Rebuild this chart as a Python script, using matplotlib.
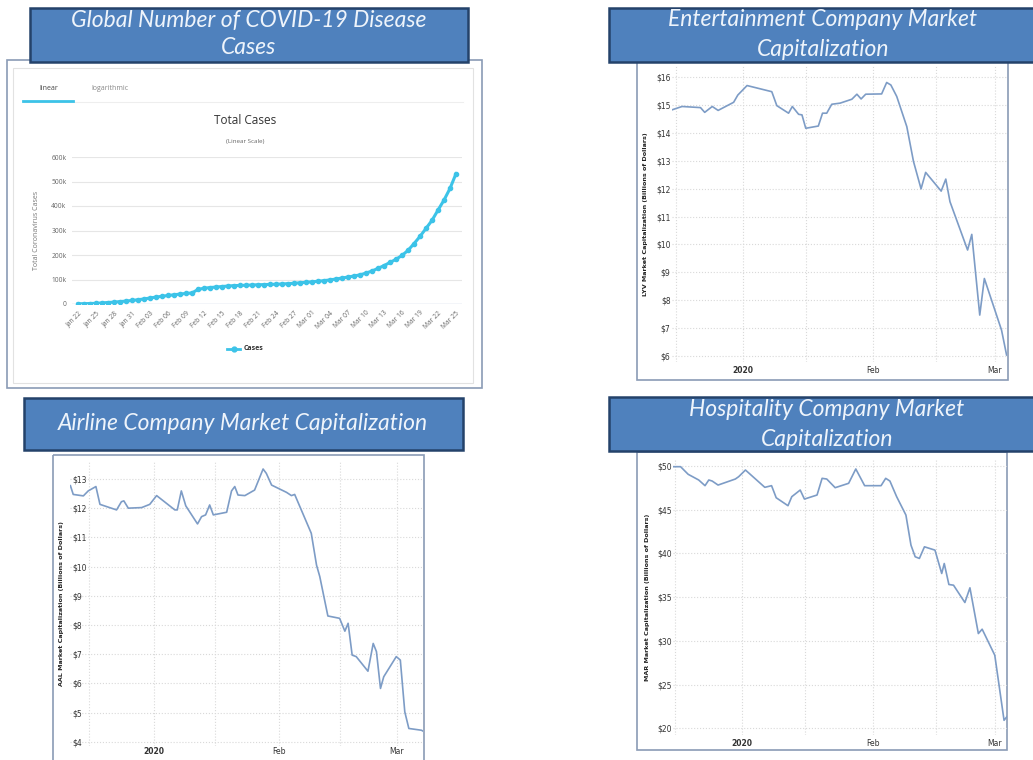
import numpy as np
import pandas as pd
import matplotlib
matplotlib.use('Agg')
import matplotlib.pyplot as plt
from matplotlib.patches import Rectangle

# ---- data ----
# global cumulative cases, one value per day starting Jan 22
covid_cases = [845, 1317, 2015, 2800, 4581, 6058, 7813, 9823, 11950, 14553,
               17391, 20630, 24545, 28266, 31439, 34876, 37552, 40553, 43099, 45134,
               59287, 64438, 67100, 69197, 71329, 73332, 75184, 75700, 76677, 77673,
               78651, 79205, 80087, 80828, 81820, 83112, 84615, 86604, 88585, 90443,
               93016, 95314, 98425, 102050, 106099, 109991, 114381, 118948, 126214, 134576,
               145483, 156653, 169593, 182490, 198238, 218822, 246261, 275869, 308463, 341365,
               383256, 424048, 471518, 531865]
covid_dates = pd.date_range('2020-01-22', periods=len(covid_cases), freq='D')
covid_ticks = [d.strftime('%b %d') for d in covid_dates[::3]]

# market caps (billions), x = days from Jan 1 2020
lyv_days = [-17, -14.6, -10.2, -9.2, -7.4, -6, -2.3, -1.3, 0.9, 6.8, 8, 10.8, 11.7, 13.2,
            14, 14.9, 17.9, 18.9, 19.9, 21.1, 23.1, 25.9, 27.1, 28.1, 29.2, 33, 34.2,
            35.2, 36.6, 39, 40.6, 42.4, 43.5, 47.2, 48.3, 49.3, 53.5, 54.5, 56.4, 57.5,
            61.6, 62.8]
lyv_cap = [14.82, 14.94, 14.9, 14.73, 14.94, 14.8, 15.09, 15.35, 15.69, 15.47, 14.97,
           14.7, 14.94, 14.66, 14.64, 14.16, 14.24, 14.7, 14.7, 15.02, 15.06, 15.2,
           15.38, 15.21, 15.38, 15.39, 15.8, 15.71, 15.3, 14.22, 12.97, 11.99, 12.58,
           11.91, 12.34, 11.53, 9.8, 10.36, 7.47, 8.78, 6.93, 6.04]

aal_days = [-20.6, -19.9, -17.4, -16.2, -14.3, -13.3, -9.2, -8, -7.4, -6.3, -3, -1, 0.7,
            5.2, 5.8, 6.8, 7.9, 10.8, 11.8, 12.8, 13.8, 14.7, 18, 19.2, 20, 20.8, 22.5,
            24.9, 27, 27.8, 29.1, 32.8, 34, 34.8, 38.9, 40.2, 41, 43, 45.9, 47.2, 48,
            49, 50, 52.9, 54.2, 55, 56, 56.8, 59.9, 60.9, 62, 63, 66.1, 66.5]
aal_cap = [12.77, 12.47, 12.42, 12.59, 12.74, 12.13, 11.94, 12.22, 12.25, 12.0, 12.02,
           12.13, 12.43, 11.94, 11.94, 12.59, 12.08, 11.46, 11.71, 11.77, 12.11, 11.77,
           11.86, 12.59, 12.74, 12.45, 12.43, 12.62, 13.34, 13.19, 12.79, 12.54, 12.43,
           12.47, 11.14, 10.05, 9.66, 8.31, 8.23, 7.79, 8.06, 6.97, 6.92, 6.42, 7.37,
           7.09, 5.83, 6.23, 6.92, 6.8, 5.03, 4.46, 4.4, 4.37]

mar_days = [-16.4, -14.6, -12.8, -10.3, -8.8, -7.9, -7.1, -5.7, -1.6, -0.8, 0.8, 5.4, 7,
            8.1, 10.9, 11.8, 13.8, 14.8, 17.8, 19, 20.1, 22.1, 25.3, 27, 29.1, 33, 34.1,
            35.1, 36.7, 38.9, 40.1, 41.1, 42.1, 43.3, 45.8, 47.4, 48, 49.1, 50.2, 52.9,
            54.1, 56.1, 57, 60, 62.2, 63]
mar_cap = [49.92, 49.92, 49.05, 48.4, 47.75, 48.4, 48.28, 47.82, 48.51, 48.78, 49.54,
           47.56, 47.75, 46.37, 45.46, 46.49, 47.25, 46.22, 46.68, 48.59, 48.51, 47.52,
           48.02, 49.66, 47.75, 47.75, 48.59, 48.28, 46.49, 44.39, 40.95, 39.62, 39.43,
           40.76, 40.38, 37.71, 38.85, 36.45, 36.37, 34.39, 36.07, 30.84, 31.34, 28.36,
           20.92, 21.41]

month_pos = [0, 31, 60]
month_labels = ['2020', 'Feb', 'Mar']

W, H = 1033, 760
fig = plt.figure(figsize=(W / 100, H / 100), dpi=100)
fig.patch.set_facecolor('white')


def px_axes(l, t, r, b, z=1):
    ax = fig.add_axes([l / W, 1 - b / H, (r - l) / W, (b - t) / H], zorder=z)
    return ax


# background layer: panel frames
bg = px_axes(0, 0, W, H, z=0)
bg.set_xlim(0, W)
bg.set_ylim(H, 0)
bg.axis('off')
frame_col = '#8a9bb5'
bg.add_patch(Rectangle((7, 60), 475, 328, fill=False, ec=frame_col, lw=1.2))
bg.add_patch(Rectangle((13, 68), 460, 315, fill=False, ec='#e2e2e2', lw=0.8))
bg.add_patch(Rectangle((637, 58), 371, 322, fill=False, ec=frame_col, lw=1.2))
bg.add_patch(Rectangle((53, 455), 371, 320, fill=False, ec=frame_col, lw=1.2))
bg.add_patch(Rectangle((637, 452), 370, 298, fill=False, ec=frame_col, lw=1.2))

# covid tabs and headings
cyan = '#3cc3e8'
bg.text(49, 88, 'linear', fontsize=5, color='#444', ha='center', va='center', family='Open Sans')
bg.text(110, 88, 'logarithmic', fontsize=5, color='#888', ha='center', va='center', family='Open Sans')
bg.plot([23, 463], [102, 102], color='#eeeeee', lw=0.8)
bg.plot([23, 73], [101, 101], color=cyan, lw=2)
bg.text(245, 121, 'Total Cases', fontsize=8.5, color='#333', ha='center', va='center', family='Open Sans')
bg.text(245, 141, '(Linear Scale)', fontsize=4.5, color='#666', ha='center', va='center', family='Open Sans')
bg.text(37, 230, 'Total Coronavirus Cases', fontsize=5, color='#777', rotation=90,
        ha='center', va='center', family='Open Sans')
bg.plot([227, 240], [349, 349], color=cyan, lw=2)
bg.plot([233.5], [349], 'o', color=cyan, ms=3.5)
bg.text(244, 349, 'Cases', fontsize=5, color='#333', ha='left', va='center',
        family='Open Sans', fontweight='bold')

# ---- covid chart ----
ax = px_axes(72, 157, 462, 304)
ax.set_facecolor('none')
x = np.arange(len(covid_cases))
ax.plot(x, covid_cases, color=cyan, lw=2.2, marker='o', ms=3.0, zorder=3)
ax.set_xlim(-1, 64)
ax.set_ylim(0, 600000)
ax.set_yticks(range(0, 600001, 100000))
ax.set_yticklabels(['0'] + ['%dk' % (v // 1000) for v in range(100000, 600001, 100000)])
ax.set_xticks(x[::3])
ax.set_xticklabels(covid_ticks, rotation=45, ha='right', rotation_mode='anchor')
ax.tick_params(length=0, labelsize=4.8, labelcolor='#666', pad=4)
for lab in ax.get_xticklabels() + ax.get_yticklabels():
    lab.set_family('Open Sans')
ax.grid(axis='y', color='#e6e6e6', lw=0.8)
for s in ax.spines.values():
    s.set_visible(False)
ax.axhline(0, color='#ccd6eb', lw=1)


# ---- market cap charts ----
def cap_chart(box, days, caps, xlim, ylim, yticks, ylabel, label_x, inside=False, xpad=3):
    a = px_axes(*box)
    a.set_facecolor('none')
    a.plot(days, caps, color='#7d9cc6', lw=1.2, zorder=3)
    a.set_xlim(*xlim)
    a.set_ylim(*ylim)
    a.set_yticks(yticks)
    a.set_yticklabels(['$%d' % v for v in yticks])
    a.set_xticks(month_pos)
    a.set_xticklabels(month_labels)
    a.get_xticklabels()[0].set_fontweight('bold')
    a.get_xticklabels()[0].set_fontsize(6.5)
    a.set_xticks([-16, 15, 46], minor=True)
    a.tick_params(which='both', length=0, labelsize=5.5, labelcolor='#333')
    a.tick_params(axis='x', pad=xpad)
    if inside:
        a.tick_params(axis='y', pad=-2)
        for lab in a.get_yticklabels():
            lab.set_horizontalalignment('left')
    else:
        a.tick_params(axis='y', pad=1)
    a.grid(which='both', color='#d9d9d9', ls=':', lw=0.8)
    for s in a.spines.values():
        s.set_visible(False)
    mid = (box[1] + box[3]) / 2
    bg.text(label_x, mid, ylabel, rotation=90, fontsize=4.6, fontweight='bold',
            color='#222', ha='center', va='center')
    return a


cap_chart((672, 66, 1007, 362), lyv_days, lyv_cap, (-17, 62.9), (5.79, 16.39),
          list(range(6, 17)), 'LYV Market Capitalization (Billions of Dollars)', 645)
cap_chart((70, 462, 423, 746), aal_days, aal_cap, (-20.7, 66.5), (3.86, 13.58),
          list(range(4, 14)), 'AAL Market Capitalization (Billions of Dollars)', 62,
          inside=True, xpad=0.5)
cap_chart((673, 459, 1007, 735), mar_days, mar_cap, (-16.4, 62.9), (19.24, 50.8),
          list(range(20, 51, 5)), 'MAR Market Capitalization (Billions of Dollars)', 647)

# ---- title boxes on top ----
top = px_axes(0, 0, W, H, z=5)
top.set_xlim(0, W)
top.set_ylim(H, 0)
top.axis('off')
box_fill = '#4f81bd'
box_edge = '#24426a'
title_kw = dict(fontsize=16.5, color='#eef4fb', style='italic', ha='center', va='center',
                family=['Lato', 'DejaVu Sans'])
for (l, t, w, h) in [(30, 8, 438, 54), (609, 8, 430, 54), (24, 398, 439, 52), (609, 397, 430, 54)]:
    top.add_patch(Rectangle((l, t), w, h, fc=box_fill, ec=box_edge, lw=1.8, zorder=2))
top.text(249, 21, 'Global Number of COVID-19 Disease', **title_kw)
top.text(249, 48, 'Cases', **title_kw)
top.text(823, 20, 'Entertainment Company Market', **title_kw)
top.text(823, 49, 'Capitalization', **title_kw)
top.text(243, 424, 'Airline Company Market Capitalization', **title_kw)
top.text(827, 410, 'Hospitality Company Market', **title_kw)
top.text(827, 440, 'Capitalization', **title_kw)

fig.savefig('out.png', dpi=100, facecolor='white')
